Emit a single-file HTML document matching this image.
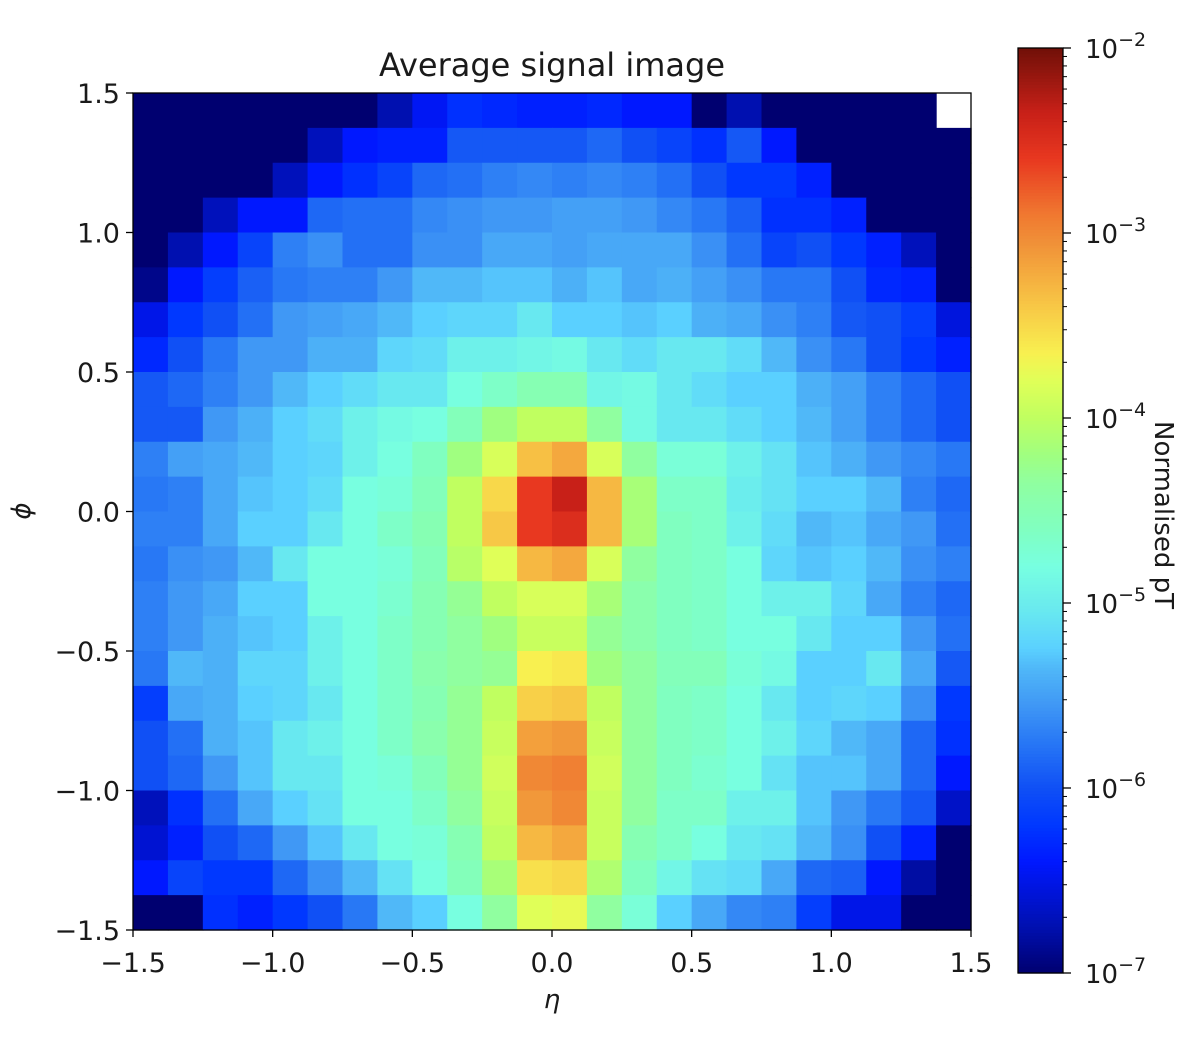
<!DOCTYPE html>
<html><head><meta charset="utf-8"><style>
body{margin:0;background:#fff;}
svg text{font-family:"DejaVu Sans","Liberation Sans",sans-serif;fill:#1a1a1a;}
</style></head><body>
<svg id="chart" width="1204" height="1040" viewBox="0 0 1204 1040" xmlns="http://www.w3.org/2000/svg">
<text x="552" y="76" font-size="32" text-anchor="middle">Average signal image</text>
<g id="cells"></g>
<g id="axes"></g>
<g id="cbar"></g>
<text x="552" y="1008" font-size="26" font-style="italic" text-anchor="middle">η</text>
<text x="0" y="0" font-size="26" font-style="italic" text-anchor="middle" transform="translate(30,511) rotate(-90)">ϕ</text>
<text x="0" y="0" font-size="26" text-anchor="middle" transform="translate(1155,515) rotate(90)">Normalised pT</text>
</svg>
<script>
// log10 of normalised pT, rows from phi=+1.5 (top) to -1.5 (bottom), columns eta -1.5..1.5
const logValues = [
[-7,-7,-7,-7,-7,-7,-7,-6.75,-6.45,-6.25,-6.3,-6.35,-6.35,-6.3,-6.4,-6.4,-7,-6.75,-7,-7,-7,-7,-7,null],
[-7,-7,-7,-7,-7,-6.7,-6.4,-6.35,-6.35,-5.95,-5.95,-5.95,-5.95,-5.85,-6.0,-6.1,-6.25,-5.95,-6.4,-7,-7,-7,-7,-7],
[-7,-7,-7,-7,-6.7,-6.4,-6.25,-6.1,-5.85,-5.8,-5.7,-5.65,-5.7,-5.65,-5.7,-5.8,-6.0,-6.2,-6.2,-6.35,-7,-7,-7,-7],
[-7,-7,-6.7,-6.4,-6.4,-5.85,-5.8,-5.8,-5.65,-5.6,-5.55,-5.55,-5.5,-5.5,-5.55,-5.65,-5.75,-5.9,-6.25,-6.25,-6.35,-7,-7,-7],
[-7,-6.75,-6.4,-6.1,-5.7,-5.6,-5.8,-5.8,-5.6,-5.6,-5.45,-5.45,-5.5,-5.45,-5.45,-5.45,-5.6,-5.8,-6.1,-6.0,-6.2,-6.35,-6.7,-7],
[-6.9,-6.4,-6.15,-5.9,-5.75,-5.7,-5.7,-5.55,-5.35,-5.35,-5.3,-5.3,-5.4,-5.3,-5.45,-5.4,-5.5,-5.6,-5.75,-5.75,-6.0,-6.3,-6.35,-7],
[-6.5,-6.2,-6.0,-5.8,-5.55,-5.5,-5.45,-5.35,-5.25,-5.2,-5.2,-5.05,-5.25,-5.25,-5.3,-5.25,-5.4,-5.45,-5.6,-5.7,-5.95,-6.0,-6.15,-6.55],
[-6.3,-6.0,-5.75,-5.55,-5.55,-5.4,-5.4,-5.2,-5.15,-4.95,-4.95,-4.9,-4.85,-5.05,-5.15,-5.05,-5.05,-5.15,-5.35,-5.6,-5.75,-6.0,-6.2,-6.35],
[-5.95,-5.85,-5.7,-5.55,-5.35,-5.25,-5.15,-5.05,-5.05,-4.8,-4.65,-4.5,-4.5,-4.9,-4.85,-5.05,-5.15,-5.25,-5.25,-5.4,-5.5,-5.7,-5.85,-6.0],
[-5.95,-5.95,-5.55,-5.4,-5.25,-5.15,-4.95,-4.85,-4.8,-4.55,-4.2,-4.0,-4.0,-4.35,-4.85,-5.05,-5.05,-5.15,-5.25,-5.35,-5.5,-5.7,-5.85,-6.0],
[-5.7,-5.5,-5.45,-5.35,-5.25,-5.2,-4.95,-4.8,-4.6,-4.2,-3.85,-3.35,-3.2,-3.85,-4.35,-4.75,-4.75,-4.95,-5.1,-5.3,-5.4,-5.55,-5.65,-5.75],
[-5.75,-5.7,-5.45,-5.3,-5.25,-5.15,-4.8,-4.75,-4.55,-4.0,-3.5,-2.6,-2.35,-3.3,-4.15,-4.65,-4.65,-5.0,-5.1,-5.25,-5.25,-5.35,-5.7,-5.85],
[-5.7,-5.7,-5.45,-5.25,-5.25,-5.05,-4.8,-4.65,-4.5,-4.0,-3.4,-2.6,-2.5,-3.3,-4.15,-4.6,-4.65,-4.95,-5.15,-5.35,-5.3,-5.45,-5.55,-5.8],
[-5.75,-5.6,-5.55,-5.35,-5.05,-4.8,-4.8,-4.75,-4.55,-4.05,-3.8,-3.3,-3.2,-3.85,-4.35,-4.6,-4.65,-4.8,-5.2,-5.3,-5.25,-5.35,-5.6,-5.7],
[-5.7,-5.55,-5.45,-5.25,-5.25,-4.8,-4.8,-4.7,-4.5,-4.3,-4.0,-3.85,-3.85,-4.15,-4.45,-4.6,-4.65,-4.8,-4.95,-4.95,-5.2,-5.45,-5.7,-5.85],
[-5.7,-5.55,-5.4,-5.3,-5.25,-4.95,-4.8,-4.65,-4.5,-4.35,-4.2,-3.95,-3.95,-4.3,-4.45,-4.6,-4.65,-4.8,-4.8,-5.05,-5.25,-5.25,-5.55,-5.8],
[-5.75,-5.35,-5.4,-5.2,-5.2,-4.95,-4.8,-4.65,-4.45,-4.35,-4.3,-3.65,-3.6,-4.2,-4.35,-4.55,-4.55,-4.75,-4.85,-5.25,-5.25,-5.05,-5.45,-5.95],
[-6.15,-5.45,-5.4,-5.25,-5.2,-5.05,-4.8,-4.65,-4.5,-4.3,-4.0,-3.45,-3.4,-4.0,-4.35,-4.6,-4.65,-4.8,-5.05,-5.25,-5.2,-5.25,-5.6,-6.2],
[-6.0,-5.8,-5.4,-5.3,-5.05,-4.95,-4.8,-4.65,-4.45,-4.3,-3.95,-3.15,-3.1,-3.95,-4.35,-4.6,-4.65,-4.8,-4.95,-5.2,-5.35,-5.45,-5.85,-6.25],
[-6.0,-5.85,-5.55,-5.3,-5.05,-5.05,-4.8,-4.75,-4.55,-4.3,-3.9,-3.0,-2.95,-3.9,-4.35,-4.6,-4.7,-4.8,-5.1,-5.3,-5.3,-5.45,-5.85,-6.4],
[-6.7,-6.25,-5.8,-5.45,-5.25,-5.1,-4.8,-4.8,-4.65,-4.35,-3.95,-3.1,-3.0,-3.95,-4.35,-4.65,-4.65,-4.95,-4.95,-5.3,-5.55,-5.75,-5.95,-6.65],
[-6.6,-6.35,-6.0,-5.85,-5.55,-5.3,-5.05,-4.8,-4.75,-4.5,-4.0,-3.3,-3.2,-3.95,-4.5,-4.65,-4.8,-5.05,-5.1,-5.35,-5.6,-6.0,-6.35,-7],
[-6.4,-6.1,-6.2,-6.2,-5.85,-5.6,-5.35,-5.1,-4.8,-4.55,-4.15,-3.55,-3.5,-4.1,-4.6,-4.9,-5.1,-5.15,-5.45,-5.85,-5.9,-6.4,-6.8,-7],
[-7,-7,-6.25,-6.35,-6.2,-6.0,-5.75,-5.35,-5.25,-4.8,-4.35,-3.8,-3.75,-4.35,-4.75,-5.25,-5.45,-5.65,-5.7,-6.15,-6.5,-6.5,-7,-7]
];
const xTickValues = [-1.5,-1.0,-0.5,0.0,0.5,1.0,1.5];
const yTickValues = [1.5,1.0,0.5,0.0,-0.5,-1.0,-1.5];
const cbarDecades = [-2,-3,-4,-5,-6,-7];

const NS='http://www.w3.org/2000/svg';
const PX0=133,PX1=971,PY0=93,PY1=930;
const VMIN=-7,VMAX=-2;
const xScale=v=>PX0+(v+1.5)/3*(PX1-PX0);
const yScale=v=>PY0+(1.5-v)/3*(PY1-PY0);
const CB={x:1018,w:45,top:48,bot:973};
const cbY=v=>CB.top+(VMAX-v)/(VMAX-VMIN)*(CB.bot-CB.top);
const stops=[[0,'000070'],[0.05,'0010b0'],[0.12,'0018ff'],[0.16,'0038ff'],[0.2,'1050f5'],[0.25,'2878f5'],[0.29,'4098f5'],[0.33,'50b8f8'],[0.35,'5ad0ff'],[0.39,'68e8f0'],[0.44,'78ffe0'],[0.48,'80ffc0'],[0.53,'90ffa0'],[0.56,'a0ff80'],[0.6,'c0ff60'],[0.64,'e0ff58'],[0.67,'f8f050'],[0.71,'f8d048'],[0.75,'f5b040'],[0.79,'f09038'],[0.82,'f07830'],[0.88,'e83820'],[0.93,'c82018'],[1,'701008']];
function cmap(t){
  t=Math.max(0,Math.min(1,t));
  for(let i=1;i<stops.length;i++){
    if(t<=stops[i][0]){
      const a=stops[i-1],b=stops[i],f=(t-a[0])/(b[0]-a[0]);
      const ca=parseInt(a[1],16),cb=parseInt(b[1],16);
      const c=[16,8,0].map(s=>Math.round(((ca>>s)&255)*(1-f)+((cb>>s)&255)*f));
      return 'rgb('+c.join(',')+')';
    }
  }
  return '#'+stops[stops.length-1][1];
}
function mk(tag,attrs,parent){const e=document.createElementNS(NS,tag);for(const k in attrs)e.setAttribute(k,attrs[k]);parent.appendChild(e);return e;}

const cells=document.getElementById('cells');
const n=logValues.length, m=logValues[0].length;
for(let r=0;r<n;r++){for(let c=0;c<m;c++){
  const v=logValues[r][c];
  if(v===null) continue;
  const x0=xScale(-1.5+3*c/m),x1=xScale(-1.5+3*(c+1)/m);
  const y0=yScale(1.5-3*r/n),y1=yScale(1.5-3*(r+1)/n);
  const e=mk('rect',{x:x0,y:y0,width:x1-x0+0.6,height:y1-y0+0.6,fill:cmap((v-VMIN)/(VMAX-VMIN))},cells);
  
  
}}

const axes=document.getElementById('axes');
const frame=mk('rect',{x:PX0,y:PY0,width:PX1-PX0,height:PY1-PY0,fill:'none',stroke:'#000','stroke-width':1.3},axes);


const fmt=v=>(v<0?'−':'')+Math.abs(v).toFixed(1);
xTickValues.forEach(v=>{
  const x=xScale(v);
  mk('line',{x1:x,x2:x,y1:PY1,y2:PY1+7,stroke:'#000','stroke-width':1.3},axes);
  const t=mk('text',{x:x,y:PY1+42,'font-size':27,'text-anchor':'middle'},axes);
  t.textContent=fmt(v);
  
  
});
yTickValues.forEach(v=>{
  const y=yScale(v);
  mk('line',{x1:PX0-7,x2:PX0,y1:y,y2:y,stroke:'#000','stroke-width':1.3},axes);
  const t=mk('text',{x:PX0-13,y:y+10,'font-size':27,'text-anchor':'end'},axes);
  t.textContent=fmt(v);
  
  
});

const cbar=document.getElementById('cbar');
const steps=300;
for(let i=0;i<steps;i++){
  const y0=CB.top+(CB.bot-CB.top)*i/steps;
  mk('rect',{x:CB.x,y:y0,width:CB.w,height:(CB.bot-CB.top)/steps+0.6,fill:cmap(1-(i+0.5)/steps)},cbar);
}
const cf=mk('rect',{x:CB.x,y:CB.top,width:CB.w,height:CB.bot-CB.top,fill:'none',stroke:'#000','stroke-width':1.3},cbar);


cbarDecades.forEach(d=>{
  const y=cbY(d);
  mk('line',{x1:CB.x+CB.w,x2:CB.x+CB.w+8,y1:y,y2:y,stroke:'#000','stroke-width':1.3},cbar);
  const t=mk('text',{x:CB.x+CB.w+22,y:y+10,'font-size':26},cbar);
  t.textContent='10';
  const s=mk('tspan',{'font-size':19,dy:-12},t);
  s.textContent='−'+Math.abs(d);
  
  
  if(d>VMIN){for(let k=2;k<=9;k++){
    const yy=cbY(d-1+Math.log10(k));
    mk('line',{x1:CB.x+CB.w,x2:CB.x+CB.w+4,y1:yy,y2:yy,stroke:'#000','stroke-width':1},cbar);
  }}
});
</script>
</body></html>
